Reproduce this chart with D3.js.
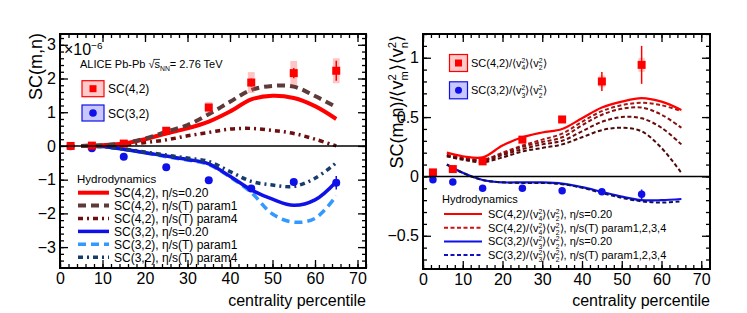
<!DOCTYPE html>
<html lang="en">
<head>
  <meta charset="UTF-8">
  <title>SC(m,n) vs centrality</title>
  <style>
    html, body { margin: 0; padding: 0; background: #fff; overflow: hidden; }
    svg { display: block; font-family: "Liberation Sans", Arial, Helvetica, sans-serif; }
  </style>
</head>
<body>
  <svg id="chart" width="747" height="313"></svg>

  <script src="https://d3js.org/d3.v7.min.js"></script>
  <script>
    // ---- data ----
    const centPts = [2.5, 7.5, 15, 25, 35, 45, 55, 65];
    const sc42 = [0.0, 0.01, 0.07, 0.45, 1.14, 1.88, 2.16, 2.23];
    const sc42Stat = [0.02, 0.02, 0.03, 0.05, 0.08, 0.12, 0.15, 0.3];
    const sc42Sys = [0.03, 0.03, 0.05, 0.08, 0.16, 0.31, 0.36, 0.37];
    const sc32 = [-0.01, -0.07, -0.32, -0.63, -1.02, -1.26, -1.07, -1.09];
    const sc32Stat = [0.01, 0.01, 0.02, 0.03, 0.05, 0.08, 0.1, 0.2];
    const sc32Sys = [0.01, 0.01, 0.02, 0.03, 0.05, 0.06, 0.08, 0.1];

    const hydroCent = [5, 10, 15, 20, 25, 30, 35, 40, 45, 50, 55, 60, 65];
    const hSc42Eta = [0.0, 0.02, 0.07, 0.2, 0.37, 0.52, 0.72, 1.02, 1.38, 1.49, 1.42, 1.18, 0.8];
    const hSc42P1 = [0.0, 0.02, 0.08, 0.22, 0.42, 0.62, 0.94, 1.31, 1.66, 1.78, 1.76, 1.48, 1.15];
    const hSc42P4 = [0.0, 0.01, 0.04, 0.1, 0.18, 0.3, 0.4, 0.5, 0.52, 0.46, 0.37, 0.2, 0.0];
    const hSc32Eta = [0.0, -0.02, -0.1, -0.2, -0.3, -0.4, -0.53, -0.9, -1.3, -1.58, -1.76, -1.6, -1.06];
    const hSc32P1 = [0.0, -0.02, -0.1, -0.2, -0.32, -0.42, -0.55, -0.92, -1.38, -2.02, -2.26, -2.15, -1.48];
    const hSc32P4 = [0.0, -0.02, -0.09, -0.18, -0.27, -0.36, -0.46, -0.76, -1.05, -1.16, -1.2, -0.96, -0.5];

    const centPtsN = [2.5, 7.5, 15, 25, 35, 45, 55];
    const nsc42 = [0.034, 0.062, 0.127, 0.31, 0.48, 0.80, 0.94];
    const nsc42Stat = [0.02, 0.01, 0.01, 0.015, 0.02, 0.08, 0.16];
    const nsc42Sys = [0.015, 0.015, 0.015, 0.02, 0.025, 0.05, 0.06];
    const nsc32 = [-0.028, -0.048, -0.1, -0.1, -0.12, -0.13, -0.15];
    const nsc32Stat = [0.01, 0.01, 0.01, 0.01, 0.01, 0.015, 0.04];

    const hydroCentN = [6, 10, 15, 20, 25, 30, 35, 40, 45, 50, 55, 60, 65];
    const hN42Eta = [0.20, 0.17, 0.16, 0.26, 0.33, 0.37, 0.40, 0.49, 0.58, 0.63, 0.66, 0.63, 0.56];
    const hN42P1 = [0.18, 0.16, 0.14, 0.20, 0.26, 0.31, 0.36, 0.46, 0.55, 0.60, 0.62, 0.60, 0.55];
    const hN42P2 = [0.18, 0.15, 0.14, 0.19, 0.25, 0.29, 0.33, 0.43, 0.52, 0.57, 0.58, 0.52, 0.41];
    const hN42P3 = [0.17, 0.15, 0.13, 0.18, 0.23, 0.27, 0.30, 0.38, 0.46, 0.50, 0.49, 0.41, 0.27];
    const hN42P4 = [0.17, 0.14, 0.12, 0.16, 0.21, 0.24, 0.27, 0.33, 0.39, 0.41, 0.38, 0.24, 0.03];
    const hN32Eta = [0.10, 0.03, -0.03, -0.05, -0.05, -0.05, -0.06, -0.09, -0.13, -0.17, -0.20, -0.20, -0.19];
    const hN32P = [0.10, 0.03, -0.03, -0.05, -0.055, -0.055, -0.065, -0.095, -0.14, -0.18, -0.21, -0.22, -0.21];

    const leftYTicks = [-3, -2, -1, 0, 1, 2, 3];
    const rightYTicks = [-0.5, 0, 0.5, 1];
    const xTicks = [0, 10, 20, 30, 40, 50, 60, 70];

    // colours
    const RED = "#ff0000", BLUE = "#1010e8";
    const BROWN = "#5e3b3b", DKRED = "#6e0f0f", LTBLUE = "#3399ff", NAVY = "#163c6a";

    const svg = d3.select("#chart");
    svg.append("rect").attr("width", 747).attr("height", 313).attr("fill", "#fff");

    // rich text: parts are strings or {sup, sub} or {over}
    function rich(g, x, y, parts, fs, opts = {}) {
      const grp = g.append("g");
      let cx = 0;
      parts.forEach(p => {
        if (typeof p === "string") {
          const t = grp.append("text").attr("x", cx).attr("y", 0).attr("font-size", fs).text(p);
          cx += t.node().getComputedTextLength();
        } else if (p.over) {
          const t = grp.append("text").attr("x", cx).attr("y", 0).attr("font-size", fs).text(p.over);
          const w = t.node().getComputedTextLength();
          grp.append("line").attr("x1", cx - 1).attr("x2", cx + w).attr("y1", -fs * 0.78).attr("y2", -fs * 0.78)
            .attr("stroke", "#000").attr("stroke-width", 0.8);
          cx += w;
        } else {
          let w = 0;
          const s = fs * 0.62;
          if (p.sup) {
            const t = grp.append("text").attr("x", cx).attr("y", -fs * 0.38).attr("font-size", s).text(p.sup);
            w = Math.max(w, t.node().getComputedTextLength());
          }
          if (p.sub) {
            const t = grp.append("text").attr("x", cx).attr("y", fs * 0.3).attr("font-size", s).text(p.sub);
            w = Math.max(w, t.node().getComputedTextLength());
          }
          cx += w;
        }
      });
      const shift = opts.anchor === "end" ? -cx : 0;
      grp.selectAll("text").attr("x", function () { return +d3.select(this).attr("x") + shift; });
      grp.selectAll("line").attr("x1", function () { return +d3.select(this).attr("x1") + shift; })
        .attr("x2", function () { return +d3.select(this).attr("x2") + shift; });
      grp.attr("transform", `translate(${x},${y})` + (opts.rotate ? ` rotate(${opts.rotate})` : ""));
      return grp;
    }

    function frame(p) {
      const g = svg.append("g");
      const x = p.x, y = p.y;
      const [x0, x1] = x.range(), [y0, y1] = y.range();
      const xMinor = d3.range(0, 72.01, 2);
      // bottom
      g.append("g").attr("transform", `translate(0,${y0})`)
        .call(d3.axisBottom(x).tickValues(xMinor).tickSize(-4).tickFormat(""));
      g.append("g").attr("transform", `translate(0,${y0})`)
        .call(d3.axisBottom(x).tickValues(xTicks).tickSize(-8).tickPadding(5).tickFormat(d3.format("d")))
        .selectAll("text").attr("font-size", 16).attr("font-family", "Liberation Sans, Arial").attr("fill", "#000");
      // top
      g.append("g").attr("transform", `translate(0,${y1})`)
        .call(d3.axisTop(x).tickValues(xMinor).tickSize(-4).tickFormat(""));
      g.append("g").attr("transform", `translate(0,${y1})`)
        .call(d3.axisTop(x).tickValues(xTicks).tickSize(-8).tickFormat(""));
      // left / right
      g.append("g").attr("transform", `translate(${x0},0)`)
        .call(d3.axisLeft(y).tickValues(p.yMinor).tickSize(-4).tickFormat(""));
      g.append("g").attr("transform", `translate(${x0},0)`)
        .call(d3.axisLeft(y).tickValues(p.yTicks).tickSize(-8).tickPadding(4).tickFormat(p.fmt))
        .selectAll("text").attr("font-size", 16).attr("font-family", "Liberation Sans, Arial").attr("fill", "#000");
      g.append("g").attr("transform", `translate(${x1},0)`)
        .call(d3.axisRight(y).tickValues(p.yMinor).tickSize(-4).tickFormat(""));
      g.append("g").attr("transform", `translate(${x1},0)`)
        .call(d3.axisRight(y).tickValues(p.yTicks).tickSize(-8).tickFormat(""));
      g.selectAll(".domain").remove();
      g.selectAll(".tick line").attr("stroke", "#000").attr("stroke-width", 1.3);
      // zero line
      g.append("line").attr("x1", x0).attr("x2", x1).attr("y1", y(0)).attr("y2", y(0))
        .attr("stroke", "#000").attr("stroke-width", 1.5);
      g.append("rect").attr("x", x0).attr("y", y1).attr("width", x1 - x0).attr("height", y0 - y1)
        .attr("fill", "none").attr("stroke", "#000").attr("stroke-width", 2);
      // x title
      svg.append("text").attr("x", x1).attr("y", 306).attr("text-anchor", "end")
        .attr("font-size", 16).text("centrality percentile");
    }

    function curve(g, x, y, xs, ys, color, w, dash) {
      const line = d3.line().x(d => x(d[0])).y(d => y(d[1])).curve(d3.curveCatmullRom);
      g.append("path").datum(d3.zip(xs, ys)).attr("d", line).attr("fill", "none")
        .attr("stroke", color).attr("stroke-width", w).attr("stroke-dasharray", dash || null);
    }

    function points(g, x, y, xs, ys, stat, sys, color, sysFill, shape, size) {
      const d = xs.map((c, i) => ({ c, v: ys[i], st: stat[i], sy: sys ? sys[i] : 0 }));
      if (sys) {
        g.selectAll(null).data(d).enter().append("rect")
          .attr("x", e => x(e.c - 0.8)).attr("width", e => x(e.c + 0.8) - x(e.c - 0.8))
          .attr("y", e => y(e.v + e.sy)).attr("height", e => y(e.v - e.sy) - y(e.v + e.sy))
          .attr("fill", sysFill);
      }
      g.selectAll(null).data(d).enter().append("line")
        .attr("x1", e => x(e.c)).attr("x2", e => x(e.c))
        .attr("y1", e => y(e.v + e.st)).attr("y2", e => y(e.v - e.st))
        .attr("stroke", color).attr("stroke-width", 1.5);
      if (shape === "square") {
        g.selectAll(null).data(d).enter().append("rect")
          .attr("x", e => x(e.c) - size / 2).attr("y", e => y(e.v) - size / 2)
          .attr("width", size).attr("height", size).attr("fill", color);
      } else {
        g.selectAll(null).data(d).enter().append("circle")
          .attr("cx", e => x(e.c)).attr("cy", e => y(e.v)).attr("r", size / 2).attr("fill", color);
      }
    }

    // ---------------- left panel ----------------
    const xL = d3.scaleLinear().domain([0, 72]).range([60, 366]);
    const yL = d3.scaleLinear().domain([-3.62, 3.32]).range([268, 34]);
    const gL = svg.append("g");

    curve(gL, xL, yL, hydroCent, hSc42P4, DKRED, 3.5, "5,4,2,4");
    curve(gL, xL, yL, hydroCent, hSc32P1, LTBLUE, 3.5, "8,5");
    curve(gL, xL, yL, hydroCent, hSc32Eta, BLUE, 3.5);
    curve(gL, xL, yL, hydroCent, hSc32P4, NAVY, 3.5, "5,4,2,4");
    curve(gL, xL, yL, hydroCent, hSc42Eta, RED, 4);
    curve(gL, xL, yL, hydroCent, hSc42P1, BROWN, 4, "8,5");
    points(gL, xL, yL, centPts, sc32, sc32Stat, sc32Sys, BLUE, "rgba(60,60,255,0.25)", "circle", 8);
    points(gL, xL, yL, centPts, sc42, sc42Stat, sc42Sys, RED, "rgba(255,60,60,0.3)", "square", 8);

    frame({ x: xL, y: yL, yTicks: leftYTicks, yMinor: d3.range(-3.6, 3.31, 0.2), fmt: d => d3.format("d")(d).replace("-", "\u2212") });

    // y title and exponent
    svg.append("text").attr("transform", "translate(42,33) rotate(-90)").attr("text-anchor", "end")
      .attr("font-size", 18).text("SC(m,n)");
    rich(svg, 64, 55, ["\u00d710", { sup: "\u22126" }], 16);

    // legends left
    rich(svg, 80, 68, ["ALICE Pb-Pb \u221a", { over: "s" }, { sub: "NN" }, " = 2.76 TeV"], 11);
    const legL = [
      { y: 88.7, label: "SC(4,2)", c: RED, fill: "#ffcaca", shape: "square" },
      { y: 113, label: "SC(3,2)", c: BLUE, fill: "#c8c8ff", shape: "circle" }
    ];
    legL.forEach(l => {
      svg.append("rect").attr("x", 82).attr("y", l.y - 8).attr("width", 22).attr("height", 16)
        .attr("fill", l.fill).attr("stroke", l.c).attr("stroke-width", 1.2);
      if (l.shape === "square") svg.append("rect").attr("x", 89.5).attr("y", l.y - 3.5).attr("width", 7).attr("height", 7).attr("fill", l.c);
      else svg.append("circle").attr("cx", 93).attr("cy", l.y).attr("r", 3.8).attr("fill", l.c);
      svg.append("text").attr("x", 108).attr("y", l.y + 4.5).attr("font-size", 12).text(l.label);
    });

    svg.append("text").attr("x", 77).attr("y", 182.5).attr("font-size", 11.5).text("Hydrodynamics");
    const hydroLegL = [
      { label: "SC(4,2), \u03b7/s=0.20", c: RED, w: 4, dash: null },
      { label: "SC(4,2), \u03b7/s(T) param1", c: BROWN, w: 4, dash: "8,5" },
      { label: "SC(4,2), \u03b7/s(T) param4", c: DKRED, w: 3.5, dash: "5,4,2,4" },
      { label: "SC(3,2), \u03b7/s=0.20", c: BLUE, w: 3.5, dash: null },
      { label: "SC(3,2), \u03b7/s(T) param1", c: LTBLUE, w: 3.5, dash: "8,5" },
      { label: "SC(3,2), \u03b7/s(T) param4", c: NAVY, w: 3.5, dash: "5,4,2,4" }
    ];
    hydroLegL.forEach((l, i) => {
      const yy = 192.7 + i * 12.9;
      svg.append("line").attr("x1", 78).attr("x2", 109).attr("y1", yy).attr("y2", yy)
        .attr("stroke", l.c).attr("stroke-width", l.w).attr("stroke-dasharray", l.dash);
      svg.append("text").attr("x", 114).attr("y", yy + 4.3).attr("font-size", 12).text(l.label);
    });

    // ---------------- right panel ----------------
    const xR = d3.scaleLinear().domain([0, 72.2]).range([423, 710]);
    const yR = d3.scaleLinear().domain([-0.78, 1.2]).range([269, 34]);
    const gR = svg.append("g");

    const paramCols = ["#a51616", "#861010", "#6a0c0c", "#4e0a0a"];
    [hN42P1, hN42P2, hN42P3, hN42P4].forEach((ys, i) => curve(gR, xR, yR, hydroCentN, ys, paramCols[i], 2, "4,2.5"));
    curve(gR, xR, yR, hydroCentN, hN42Eta, RED, 2.2);
    curve(gR, xR, yR, hydroCentN, hN32Eta, BLUE, 2.2);
    curve(gR, xR, yR, hydroCentN, hN32P, "#10105a", 2, "4,2.5");
    points(gR, xR, yR, centPtsN, nsc32, nsc32Stat, null, BLUE, null, "circle", 7.5);
    points(gR, xR, yR, centPtsN, nsc42, nsc42Stat, nsc42Sys, RED, "rgba(255,60,60,0.25)", "square", 8);

    frame({ x: xR, y: yR, yTicks: rightYTicks, yMinor: d3.range(-0.7, 1.201, 0.1), fmt: d => d === 0 ? "0" : String(d).replace("-", "\u2212") });

    rich(svg, 403, 35, ["SC(m,n)/\u27e8v", { sup: "2", sub: "m" }, "\u27e9\u27e8v", { sup: "2", sub: "n" }, "\u27e9"], 18, { anchor: "end", rotate: -90 });

    const legR = [
      { y: 63, parts: ["SC(4,2)/\u27e8v", { sup: "2", sub: "4" }, "\u27e9\u27e8v", { sup: "2", sub: "2" }, "\u27e9"], c: RED, fill: "#ffcaca", shape: "square" },
      { y: 90.3, parts: ["SC(3,2)/\u27e8v", { sup: "2", sub: "3" }, "\u27e9\u27e8v", { sup: "2", sub: "2" }, "\u27e9"], c: BLUE, fill: "#c8c8ff", shape: "circle" }
    ];
    legR.forEach(l => {
      svg.append("rect").attr("x", 449.5).attr("y", l.y - 8.5).attr("width", 18).attr("height", 17)
        .attr("fill", l.fill).attr("stroke", l.c).attr("stroke-width", 1.2);
      if (l.shape === "square") svg.append("rect").attr("x", 455).attr("y", l.y - 3.5).attr("width", 7).attr("height", 7).attr("fill", l.c);
      else svg.append("circle").attr("cx", 458.5).attr("cy", l.y).attr("r", 3.5).attr("fill", l.c);
      rich(svg, 471, l.y + 4, l.parts, 11);
    });

    svg.append("text").attr("x", 442).attr("y", 203).attr("font-size", 11).text("Hydrodynamics");
    const hydroLegR = [
      { parts: ["SC(4,2)/\u27e8v", { sup: "2", sub: "4" }, "\u27e9\u27e8v", { sup: "2", sub: "2" }, "\u27e9, \u03b7/s=0.20"], c: RED, dash: null },
      { parts: ["SC(4,2)/\u27e8v", { sup: "2", sub: "4" }, "\u27e9\u27e8v", { sup: "2", sub: "2" }, "\u27e9, \u03b7/s(T) param1,2,3,4"], c: "#cc1010", dash: "4,2.5" },
      { parts: ["SC(3,2)/\u27e8v", { sup: "2", sub: "3" }, "\u27e9\u27e8v", { sup: "2", sub: "2" }, "\u27e9, \u03b7/s=0.20"], c: BLUE, dash: null },
      { parts: ["SC(3,2)/\u27e8v", { sup: "2", sub: "3" }, "\u27e9\u27e8v", { sup: "2", sub: "2" }, "\u27e9, \u03b7/s(T) param1,2,3,4"], c: "#1010c0", dash: "4,2.5" }
    ];
    hydroLegR.forEach((l, i) => {
      const yy = 214 + i * 13.7;
      svg.append("line").attr("x1", 444).attr("x2", 482).attr("y1", yy).attr("y2", yy)
        .attr("stroke", l.c).attr("stroke-width", 2).attr("stroke-dasharray", l.dash);
      rich(svg, 488, yy + 4, l.parts, 11);
    });
  </script>
</body>
</html>
